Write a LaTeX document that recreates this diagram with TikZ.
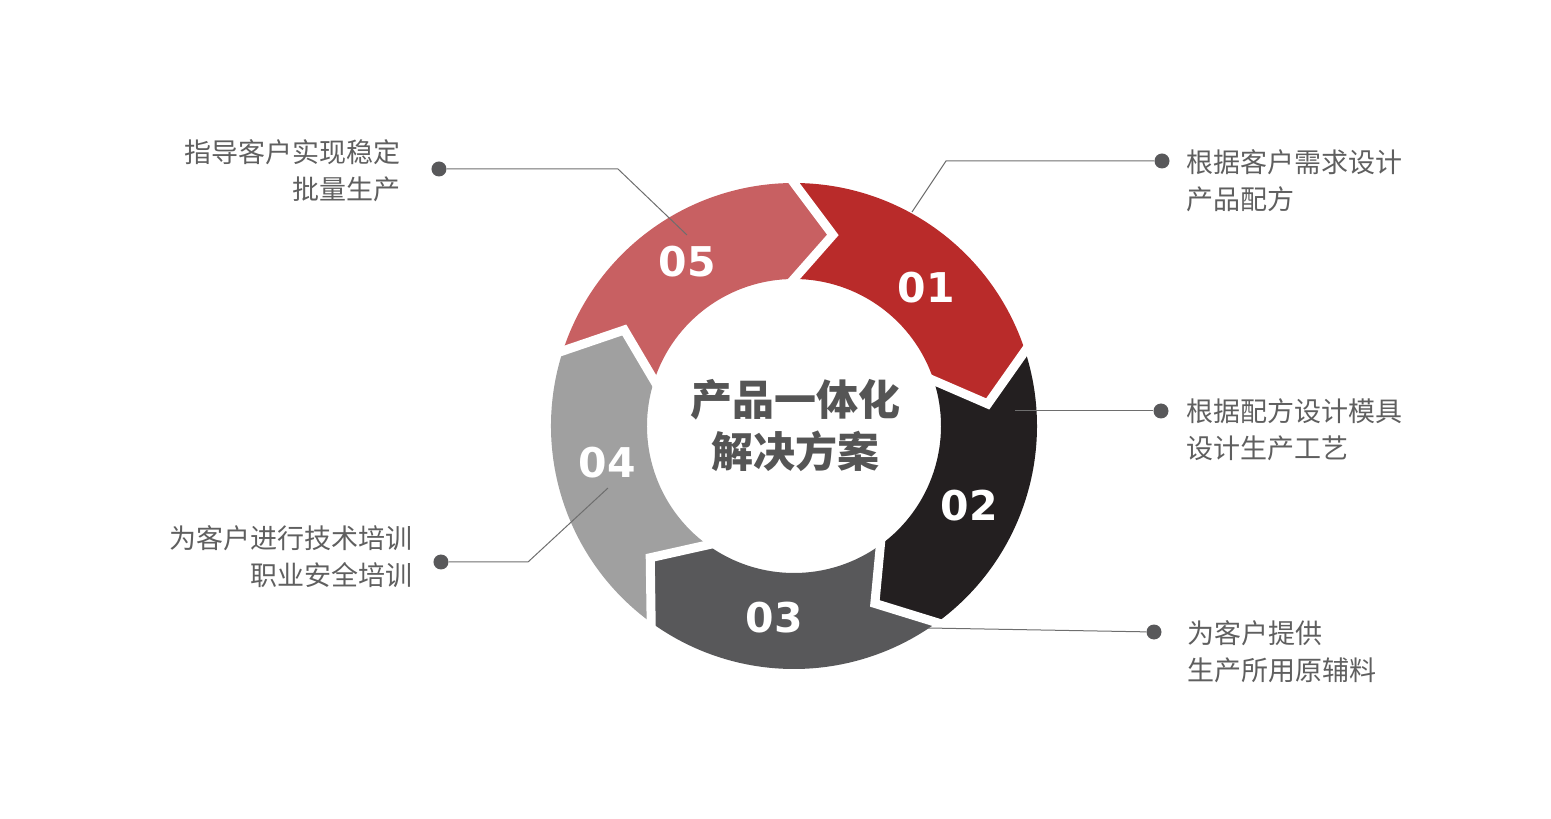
\documentclass[tikz,border=0pt]{standalone}
\usepackage{fontspec}
\setmainfont{DejaVu Sans}
\newfontfamily\cjk{Noto Sans CJK SC}
\definecolor{segone}{RGB}{185,43,42}
\definecolor{segtwo}{RGB}{35,31,32}
\definecolor{segthree}{RGB}{88,88,90}
\definecolor{segfour}{RGB}{160,160,160}
\definecolor{segfive}{RGB}{200,96,98}
\definecolor{inkgray}{RGB}{85,85,85}
\definecolor{notegray}{RGB}{95,95,95}
\definecolor{leadgray}{RGB}{110,110,110}
\tikzset{
x=1pt, y=1pt,
num/.style={text=white, inner sep=0pt, font=\fontsize{41}{41}\selectfont\bfseries},
dot/.style={circle, fill=segthree, inner sep=0pt, minimum size=15pt},
lead/.style={draw=leadgray, line width=1pt},
note/.style={text=notegray, inner sep=0pt, font=\cjk\fontsize{27}{37}\selectfont},
gap/.style={draw=white, line width=9pt, shorten <=-10pt, shorten >=-10pt},
title/.style={text=inkgray, align=center, font=\cjk\bfseries\fontsize{42}{52}\selectfont},
}

\begin{document}
\begin{tikzpicture}
        \useasboundingbox (-794,-393) rectangle (757,426);

        % ring segments, clockwise from the top
        \fill[segone] (90:243) arc[start angle=90, end angle=18, radius=243] -- (6.5:195) -- (18:147) arc[start angle=18, end angle=90, radius=147] -- (78.5:195) -- cycle;
        \fill[segtwo] (18:243) arc[start angle=18, end angle=-54, radius=243] -- (-65.5:195) -- (-54:147) arc[start angle=-54, end angle=18, radius=147] -- (6.5:195) -- cycle;
        \fill[segthree] (-54:243) arc[start angle=-54, end angle=-126, radius=243] -- (-137.5:195) -- (-126:147) arc[start angle=-126, end angle=-54, radius=147] -- (-65.5:195) -- cycle;
        \fill[segfour] (-126:243) arc[start angle=-126, end angle=-198, radius=243] -- (150.5:195) -- (162:147) arc[start angle=162, end angle=234, radius=147] -- (-137.5:195) -- cycle;
        \fill[segfive] (162:243) arc[start angle=162, end angle=90, radius=243] -- (78.5:195) -- (90:147) arc[start angle=90, end angle=162, radius=147] -- (150.5:195) -- cycle;

        % white cuts between the segments
        \draw[gap] (90:243) -- (78.5:195) -- (90:147);
        \draw[gap] (18:243) -- (6.5:195) -- (18:147);
        \draw[gap] (-54:243) -- (-65.5:195) -- (-54:147);
        \draw[gap] (-126:243) -- (-137.5:195) -- (-126:147);
        \draw[gap] (162:243) -- (150.5:195) -- (162:147);

        \node[num] (n1) at (132.5,138) {01};
        \node[num] (n2) at (175,-80) {02};
        \node[num] (n3) at (-20,-191.5) {03};
        \node[num] (n4) at (-187,-36.5) {04};
        \node[num] (n5) at (-106.5,164) {05};

        \node[title] (core) at (2,0) {产品一体化\\解决方案};

        \node[dot] (d1) at (368,265) {};
        \node[dot] (d2) at (367,15) {};
        \node[dot] (d3) at (360,-206) {};
        \node[dot] (d4) at (-353,-136) {};
        \node[dot] (d5) at (-355,257) {};

        \coordinate (b1) at (152,265);
        \coordinate (e1) at (118,214);
        \coordinate (e2) at (221,15);
        \coordinate (e3) at (134,-202);
        \coordinate (b4) at (-266,-136);
        \coordinate (e4) at (-186,-62);
        \coordinate (b5) at (-176,257);
        \coordinate (e5) at (-107,191);

        \draw[lead] (d1) -- (b1) -- (e1);
        \draw[lead] (d2) -- (e2);
        \draw[lead] (d3) -- (e3);
        \draw[lead] (d4) -- (b4) -- (e4);
        \draw[lead] (d5) -- (b5) -- (e5);

        \node[note, anchor=west, align=left] (t1) at (392,245.5) {根据客户需求设计\\产品配方};
        \node[note, anchor=west, align=left] (t2) at (392,-3.5) {根据配方设计模具\\设计生产工艺};
        \node[note, anchor=west, align=left] (t3) at (393,-226) {为客户提供\\生产所用原辅料};
        \node[note, anchor=east, align=right] (t4) at (-381,-130.5) {为客户进行技术培训\\职业安全培训};
        \node[note, anchor=east, align=right] (t5) at (-393,255.5) {指导客户实现稳定\\批量生产};
    \end{tikzpicture}
\end{document}
